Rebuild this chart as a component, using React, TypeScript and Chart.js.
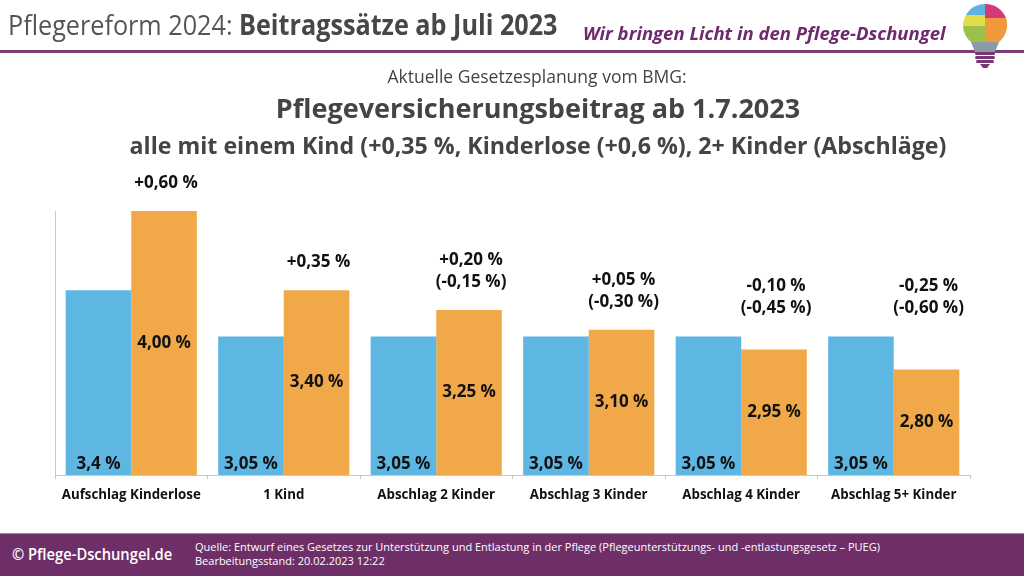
import React, { useEffect, useRef } from "react";
import { Chart, registerables } from "chart.js";

Chart.register(...registerables);

const categories = [
  "Aufschlag Kinderlose",
  "1 Kind",
  "Abschlag 2 Kinder",
  "Abschlag 3 Kinder",
  "Abschlag 4 Kinder",
  "Abschlag 5+ Kinder",
];
const currentRates = [3.4, 3.05, 3.05, 3.05, 3.05, 3.05];
const currentLabels = ["3,4 %", "3,05 %", "3,05 %", "3,05 %", "3,05 %", "3,05 %"];
const newRates = [4.0, 3.4, 3.25, 3.1, 2.95, 2.8];
const newLabels = ["4,00 %", "3,40 %", "3,25 %", "3,10 %", "2,95 %", "2,80 %"];
const changeLabels = [
  ["+0,60 %"],
  ["+0,35 %"],
  ["+0,20 %", "(-0,15 %)"],
  ["+0,05 %", "(-0,30 %)"],
  ["-0,10 %", "(-0,45 %)"],
  ["-0,25 %", "(-0,60 %)"],
];
const yMin = 2;
const yMax = 4;

const BLUE = "#5eb6e2";
const ORANGE = "#f1a848";
const PURPLE = "#6e2f69";

const labelPlugin = {
  id: "barLabels",
  afterDatasetsDraw(chart: any) {
    const ctx = chart.ctx;
    const bottom = chart.chartArea.bottom;
    const m0 = chart.getDatasetMeta(0).data;
    const m1 = chart.getDatasetMeta(1).data;
    ctx.save();
    ctx.fillStyle = "#111";
    ctx.textAlign = "center";
    ctx.textBaseline = "middle";
    ctx.font = "bold 17px 'Open Sans'";
    for (let i = 0; i < categories.length; i++) {
      const b0 = m0[i];
      const b1 = m1[i];
      ctx.fillText(currentLabels[i], b0.x, bottom - 11);
      ctx.fillText(newLabels[i], b1.x, (b1.y + bottom) / 2);
      const top = Math.min(b0.y, b1.y);
      const lines = changeLabels[i];
      for (let k = 0; k < lines.length; k++) {
        const y = top - 28 - (lines.length - 1 - k) * 22;
        ctx.fillText(lines[k], b1.x + 2, y);
      }
    }
    ctx.restore();
  },
};

function Logo() {
  return (
    <svg width="60" height="70" viewBox="0 0 60 70" style={{ position: "absolute", left: 955, top: 0 }}>
      <path d="M30 4 A22 22 0 0 0 8 26 L30 26 Z" fill="#e2dd4a" />
      <path d="M30 4 A22 22 0 0 0 11 15 L30 15 Z" fill="#5db4e0" />
      <path d="M30 4 A22 22 0 0 1 51 18 L30 18 Z" fill="#d43a78" />
      <path d="M51 18 A22 22 0 0 1 44 42 L30 42 L30 18 Z" fill="#ef9a3a" />
      <path d="M8 26 A22 22 0 0 0 16 42 L30 42 L30 26 Z" fill="#9cc04a" />
      <path d="M16 42 L44 42 L40 52 L20 52 Z" fill="#8a9ba5" />
      <rect x="20" y="52" width="20" height="3" rx="1.5" fill="#7a3574" />
      <rect x="20" y="56" width="20" height="3" rx="1.5" fill="#7a3574" />
      <rect x="21" y="60" width="18" height="3" rx="1.5" fill="#7a3574" />
      <path d="M25 64 L35 64 L32 68 L28 68 Z" fill="#7a3574" />
    </svg>
  );
}

export default function App() {
  const ref = useRef<HTMLCanvasElement>(null);
  useEffect(() => {
    if (!ref.current) return;
    const chart = new Chart(ref.current, {
      type: "bar",
      data: {
        labels: categories,
        datasets: [
          { label: "aktuell", data: currentRates, backgroundColor: BLUE, borderWidth: 0, barPercentage: 1, categoryPercentage: 0.86 },
          { label: "ab 1.7.2023", data: newRates, backgroundColor: ORANGE, borderWidth: 0, barPercentage: 1, categoryPercentage: 0.86 },
        ],
      },
      options: {
        responsive: false,
        animation: false,
        layout: { padding: { left: 47, right: 54, top: 211, bottom: 65 } },
        plugins: { legend: { display: false }, tooltip: { enabled: false } },
        scales: {
          x: {
            grid: { display: true, drawOnChartArea: false, drawTicks: true, tickLength: 4, color: "#c8c8c8", offset: true },
            border: { display: true, color: "#c8c8c8" },
            ticks: { color: "#111", font: { family: "'Open Sans'", size: 13.3, weight: "bold" }, padding: 8 },
          },
          y: {
            min: yMin,
            max: yMax,
            grid: { display: false },
            border: { display: true, color: "#c8c8c8" },
            ticks: { display: false },
          },
        },
      },
      plugins: [labelPlugin],
    });
    return () => chart.destroy();
  }, []);

  return (
    <div style={{ position: "absolute", left: 0, top: 0, width: 1024, height: 576, background: "#fff", overflow: "hidden", fontFamily: "'Open Sans', sans-serif" }}>
      <canvas ref={ref} width={1024} height={576} style={{ position: "absolute", left: 0, top: 0 }} />
      <div style={{ position: "absolute", left: 8, top: 5, fontSize: 28, color: "#555", whiteSpace: "nowrap", transform: "scaleX(0.9)", transformOrigin: "left top", lineHeight: "38px" }}>
        Pflegereform 2024: <span style={{ fontWeight: 700, color: "#474747" }}>Beitragssätze ab Juli 2023</span>
      </div>
      <div style={{ position: "absolute", left: 583, top: 20, fontSize: 18.5, fontWeight: 700, fontStyle: "italic", color: "#6e2a6c", whiteSpace: "nowrap", lineHeight: "26px" }}>
        Wir bringen Licht in den Pflege-Dschungel
      </div>
      <div style={{ position: "absolute", left: 0, top: 50, width: 1024, height: 3, background: "#7a3d78" }} />
      <Logo />
      <div style={{ position: "absolute", left: 0, top: 63, width: 1074, textAlign: "center", fontSize: 17.5, color: "#444", lineHeight: "26px" }}>
        Aktuelle Gesetzesplanung vom BMG:
      </div>
      <div style={{ position: "absolute", left: 0, top: 90, width: 1076, textAlign: "center", fontSize: 27, fontWeight: 700, color: "#444", lineHeight: "36px" }}>
        Pflegeversicherungsbeitrag ab 1.7.2023
      </div>
      <div style={{ position: "absolute", left: 0, top: 129, width: 1076, textAlign: "center", fontSize: 23.2, fontWeight: 700, color: "#444", lineHeight: "32px" }}>
        alle mit einem Kind (+0,35 %, Kinderlose (+0,6 %), 2+ Kinder (Abschläge)
      </div>
      <div style={{ position: "absolute", left: 0, top: 533, width: 1024, height: 43, background: PURPLE, borderTop: "1px solid #9a8a98" }} />
      <div style={{ position: "absolute", left: 12, top: 542, fontSize: 16, fontWeight: 600, color: "#fff", whiteSpace: "nowrap", lineHeight: "24px", transform: "scaleX(0.92)", transformOrigin: "left top" }}>
        © Pflege-Dschungel.de
      </div>
      <div style={{ position: "absolute", left: 195, top: 540, fontSize: 11, color: "#fff", whiteSpace: "nowrap", lineHeight: "14px" }}>
        Quelle: Entwurf eines Gesetzes zur Unterstützung und Entlastung in der Pflege (Pflegeunterstützungs- und -entlastungsgesetz – PUEG)
        <br />
        Bearbeitungsstand: 20.02.2023 12:22
      </div>
    </div>
  );
}
